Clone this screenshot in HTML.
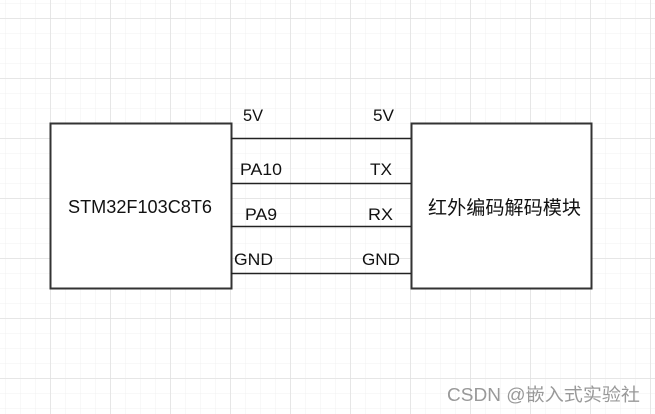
<!DOCTYPE html>
<html><head><meta charset="utf-8"><style>
html,body{margin:0;padding:0;background:#fff;}
svg{display:block;}
text{font-family:"Liberation Sans","Noto Sans CJK SC",sans-serif;}
</style></head><body>
<svg width="655" height="414" xmlns="http://www.w3.org/2000/svg">
<defs>
<pattern id="minor" width="15" height="15" patternUnits="userSpaceOnUse" x="5" y="3">
<path d="M0 0H15M0 0V15" stroke="#f0f0f0" stroke-width="1" fill="none"/>
</pattern>
<pattern id="major" width="60" height="60" patternUnits="userSpaceOnUse" x="50.5" y="18.5">
<path d="M0 0H60M0 0V60" stroke="#dcdcdc" stroke-width="1" fill="none"/>
</pattern>
</defs>
<rect width="655" height="414" fill="#fff"/>
<rect width="655" height="414" fill="url(#minor)"/>
<rect width="655" height="414" fill="url(#major)"/>
<rect x="50.5" y="123.5" width="181" height="165" fill="#fff" stroke="#333" stroke-width="2"/>
<rect x="411.5" y="123.5" width="180" height="165" fill="#fff" stroke="#333" stroke-width="2"/>
<g stroke="#222" stroke-width="1.5">
<line x1="231" y1="138.5" x2="411" y2="138.5"/>
<line x1="231" y1="183.5" x2="411" y2="183.5"/>
<line x1="231" y1="226.5" x2="411" y2="226.5"/>
<line x1="231" y1="273.5" x2="411" y2="273.5"/>
</g>
<g font-size="17" fill="#111">
<text x="243" y="121" textLength="20" lengthAdjust="spacingAndGlyphs">5V</text>
<text x="373" y="121" textLength="21" lengthAdjust="spacingAndGlyphs">5V</text>
<text x="240" y="175" textLength="42" lengthAdjust="spacingAndGlyphs">PA10</text>
<text x="370" y="175" textLength="22" lengthAdjust="spacingAndGlyphs">TX</text>
<text x="245" y="220" textLength="32" lengthAdjust="spacingAndGlyphs">PA9</text>
<text x="368" y="220" textLength="25" lengthAdjust="spacingAndGlyphs">RX</text>
<text x="234" y="265" textLength="39" lengthAdjust="spacingAndGlyphs">GND</text>
<text x="362" y="265" textLength="38" lengthAdjust="spacingAndGlyphs">GND</text>
<text x="68" y="213" font-size="18" textLength="144" lengthAdjust="spacingAndGlyphs">STM32F103C8T6</text>
<text x="428" y="214" font-size="19" textLength="153" lengthAdjust="spacingAndGlyphs">红外编码解码模块</text>
</g>
<text x="447" y="401" font-size="18" fill="#999" textLength="193" lengthAdjust="spacingAndGlyphs">CSDN @嵌入式实验社</text>
</svg>
</body></html>
